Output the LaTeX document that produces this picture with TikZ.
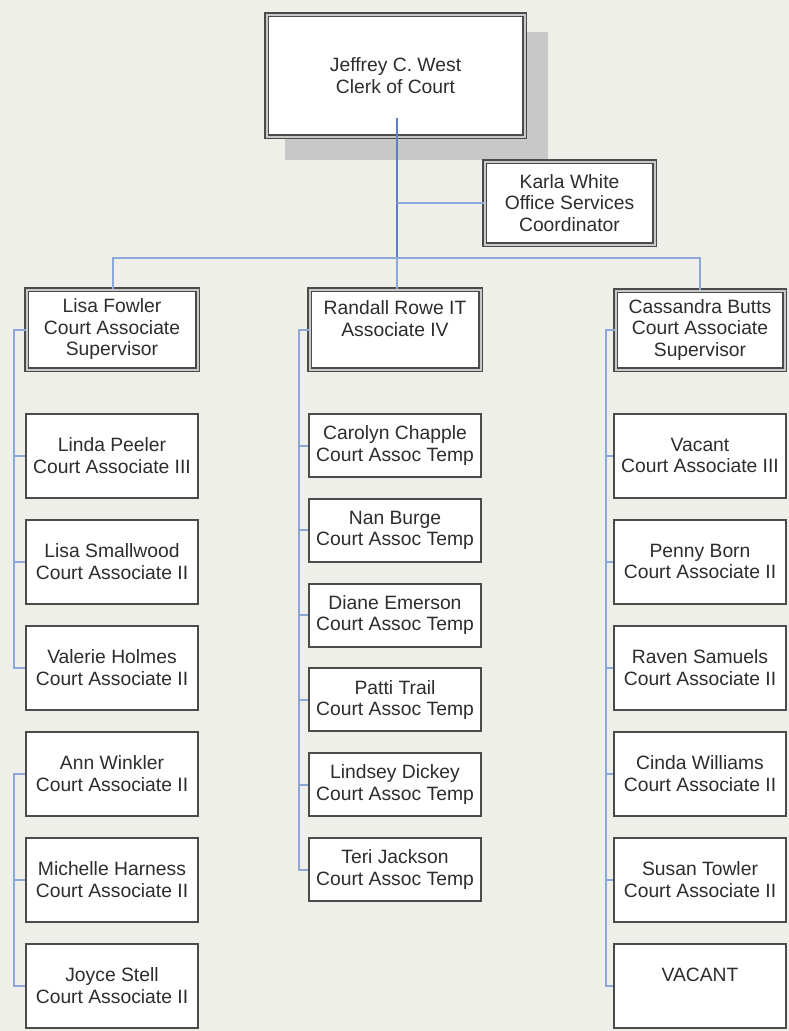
\documentclass[tikz,border=0pt]{standalone}
\usepackage{fontspec}
\setmainfont{Liberation Sans}
\definecolor{bg}{RGB}{239,239,234}
\definecolor{frame}{RGB}{75,75,75}
\definecolor{gap}{RGB}{200,200,200}
\definecolor{conncol}{RGB}{140,168,214}
\definecolor{conndark}{RGB}{95,125,195}
\definecolor{txt}{RGB}{45,45,45}
\definecolor{shadowcol}{RGB}{200,200,200}
\tikzset{
  txtstyle/.style={font=\fontsize{19.3}{21.5}\selectfont, text=txt, align=center, inner sep=0pt},
  dbox/.style={txtstyle, draw=frame, line width=1.5pt, double=gap, double distance=2pt, fill=white},
  sbox/.style={txtstyle, draw=frame, line width=2pt, fill=white, minimum width=172pt, minimum height=84pt},
  mbox/.style={sbox, minimum height=63pt},
  conn/.style={draw=conncol, line width=2pt},
  conntop/.style={draw=conndark, line width=2pt}
}
\begin{document}
\begin{tikzpicture}[x=1pt,y=-1pt]
\useasboundingbox (0,0) rectangle (789,1031);
\fill[bg] (0,0) rectangle (789,1031);
% shadow of the top box
\fill[shadowcol] (285,32) rectangle (548,160);
% top boxes
\node[dbox, minimum width=258pt, minimum height=122pt] (west) at (395.5,75.5) {Jeffrey C. West\\Clerk of Court};
\node[dbox, minimum width=170pt, minimum height=83pt] (karla) at (569.5,203) {Karla White\\Office Services\\Coordinator};
% supervisors
\node[dbox, minimum width=171pt, minimum height=80pt] (fowler) at (112,329.5) {Lisa Fowler\\Court Associate\\Supervisor};
\node[dbox, minimum width=171pt, minimum height=80pt] (rowe) at (395,329.5) {Randall Rowe IT\\Associate IV\\~};
\node[dbox, minimum width=169pt, minimum height=79pt] (butts) at (700,330) {Cassandra Butts\\Court Associate\\Supervisor};
% left column
\node[sbox] (peeler) at (112,455.5) {Linda Peeler\\Court Associate III};
\node[sbox] (smallwood) at (112,561.5) {Lisa Smallwood\\Court Associate II};
\node[sbox] (holmes) at (112,667.5) {Valerie Holmes\\Court Associate II};
\node[sbox] (winkler) at (112,773.5) {Ann Winkler\\Court Associate II};
\node[sbox] (harness) at (112,879.5) {Michelle Harness\\Court Associate II};
\node[sbox] (stell) at (112,985.5) {Joyce Stell\\Court Associate II};
% middle column
\node[mbox] (chapple) at (395,445.5) {Carolyn Chapple\\Court Assoc Temp};
\node[mbox] (burge) at (395,530.3) {Nan Burge\\Court Assoc Temp};
\node[mbox] (emerson) at (395,615.1) {Diane Emerson\\Court Assoc Temp};
\node[mbox] (trail) at (395,699.9) {Patti Trail\\Court Assoc Temp};
\node[mbox] (dickey) at (395,784.7) {Lindsey Dickey\\Court Assoc Temp};
\node[mbox] (jackson) at (395,869.5) {Teri Jackson\\Court Assoc Temp};
% right column
\node[sbox] (vacant1) at (700,455.5) {Vacant\\Court Associate III};
\node[sbox] (born) at (700,561.5) {Penny Born\\Court Associate II};
\node[sbox] (samuels) at (700,667.5) {Raven Samuels\\Court Associate II};
\node[sbox] (williams) at (700,773.5) {Cinda Williams\\Court Associate II};
\node[sbox] (towler) at (700,879.5) {Susan Towler\\Court Associate II};
\node[sbox] (vacant2) at (700,985.5) {VACANT\\~};
% connectors
\coordinate (topstart) at (397,118);
\coordinate (bus) at (397,258);
\draw[conntop] (topstart) -- (bus);
\draw[conn] (397,203) coordinate (kj) -- (karla.west);
\draw[conn] (fowler.north -| 113,0) |- (bus);
\draw[conn] (butts.north) |- (bus);
\draw[conn] (rowe.north -| bus) -- (bus);
\foreach \c in {peeler,smallwood,holmes}
  \draw[conn] (fowler.west) -- ++(-12,0) |- (\c.west);
\foreach \c in {harness,stell}
  \draw[conn] (winkler.west) -- ++(-11,0) |- (\c.west);
\foreach \c in {chapple,burge,emerson,trail,dickey,jackson}
  \draw[conn] (rowe.west) -- ++(-10,0) |- (\c.west);
\foreach \c in {vacant1,born,samuels,williams,towler,vacant2}
  \draw[conn] (butts.west) -- ++(-9,0) |- (\c.west);
\end{tikzpicture}
\end{document}
